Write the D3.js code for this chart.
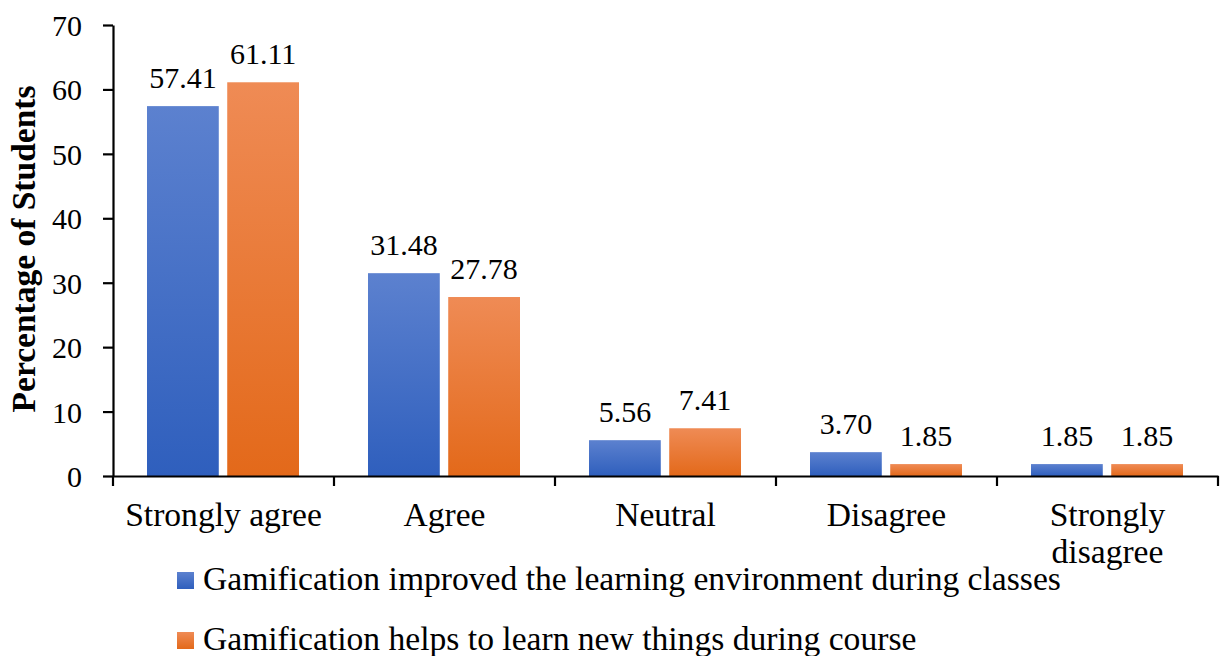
<!DOCTYPE html>
<html>
<head>
<meta charset="utf-8">
<script src="https://cdn.jsdelivr.net/npm/d3@7"></script>
<style>
  html, body { margin: 0; padding: 0; background: #fff; }
  svg { display: block; }
  text { font-family: "Liberation Serif", "Times New Roman", serif; fill: #000; }
</style>
</head>
<body>
<svg id="chart" width="1221" height="656"></svg>
<script>
// Survey responses (percentage of students)
const categories = ["Strongly agree", "Agree", "Neutral", "Disagree", "Strongly disagree"];
const seriesNames = [
  "Gamification improved the learning environment during classes",
  "Gamification helps to learn new things during course"
];
const improvedEnv = [57.41, 31.48, 5.56, 3.70, 1.85];
const learnNew = [61.11, 27.78, 7.41, 1.85, 1.85];
const yTicks = [0, 10, 20, 30, 40, 50, 60, 70];

const svg = d3.select("#chart");
const x0 = 113, x1 = 1218, yTop = 25, yBottom = 476;
const numSize = 30, textSize = 33.6;

const defs = svg.append("defs");
const grads = [
  { id: "gBlue", top: "#5c81cf", bottom: "#2f5fbd" },
  { id: "gOrange", top: "#ef8b55", bottom: "#e3691a" }
];
grads.forEach(g => {
  const lg = defs.append("linearGradient").attr("id", g.id)
    .attr("x1", 0).attr("y1", 0).attr("x2", 0).attr("y2", 1);
  lg.append("stop").attr("offset", "0%").attr("stop-color", g.top);
  lg.append("stop").attr("offset", "100%").attr("stop-color", g.bottom);
});
const fills = ["url(#gBlue)", "url(#gOrange)"];

const x = d3.scaleBand().domain(categories).range([x0, x1]).paddingInner(0).paddingOuter(0);
const xs = d3.scaleBand().domain([0, 1]).range([34, x.bandwidth() - 35]).paddingInner(16 / 152);
const y = d3.scaleLinear().domain([0, 70]).range([yBottom, yTop]);

const data = categories.map((c, i) => ({ cat: c, vals: [improvedEnv[i], learnNew[i]] }));

// bars
const groups = svg.append("g").selectAll("g").data(data).join("g")
  .attr("transform", d => `translate(${x(d.cat)},0)`);
groups.selectAll("rect").data(d => d.vals.map((v, k) => ({ v, k }))).join("rect")
  .attr("x", d => xs(d.k))
  .attr("width", xs.bandwidth())
  .attr("y", d => y(d.v))
  .attr("height", d => y(0) - y(d.v))
  .attr("fill", d => fills[d.k]);

// value labels
groups.selectAll("text.val").data(d => d.vals.map((v, k) => ({ v, k }))).join("text")
  .attr("class", "val")
  .attr("x", d => xs(d.k) + xs.bandwidth() / 2)
  .attr("y", d => y(d.v) - 18)
  .attr("text-anchor", "middle")
  .attr("font-size", numSize)
  .text(d => d.v.toFixed(2));

// y axis
const yAxis = svg.append("g").attr("transform", `translate(${x0},0)`)
  .call(d3.axisLeft(y).tickValues(yTicks).tickSize(10).tickPadding(21).tickSizeOuter(0));
yAxis.select(".domain").attr("stroke", "#000").attr("stroke-width", 2.2);
yAxis.selectAll(".tick line").attr("stroke", "#000").attr("stroke-width", 2.2);
yAxis.selectAll(".tick text").attr("font-size", numSize)
  .attr("fill", "#000").attr("dy", "0.35em");

// x axis with separators between categories
const xAxis = svg.append("g").attr("transform", `translate(0,${yBottom})`)
  .call(d3.axisBottom(x).tickSize(0).tickFormat(""));
xAxis.select(".domain").attr("stroke", "#000").attr("stroke-width", 2.2);
const bounds = categories.map(c => x(c)).concat([x1]);
xAxis.selectAll("line.sep").data(bounds).join("line")
  .attr("class", "sep")
  .attr("x1", d => d).attr("x2", d => d)
  .attr("y1", 0).attr("y2", 10)
  .attr("stroke", "#000").attr("stroke-width", 2.2);

// category labels (the long one wraps onto two lines)
const catLines = { "Strongly disagree": ["Strongly", "disagree"] };
categories.forEach(c => {
  const lines = catLines[c] || [c];
  const cx = x(c) + x.bandwidth() / 2;
  const t = svg.append("text")
    .attr("text-anchor", "middle")
    .attr("font-size", textSize);
  lines.forEach((ln, i) => {
    t.append("tspan").attr("x", cx).attr("y", 526 + i * 37).text(ln);
  });
});

// y axis title
svg.append("text")
  .attr("transform", `translate(35,249) rotate(-90)`)
  .attr("text-anchor", "middle")
  .attr("font-size", 33.5)
  .attr("font-weight", "bold")
  .text("Percentage of Students");

// legend
const legend = svg.append("g").selectAll("g").data(seriesNames).join("g")
  .attr("transform", (d, i) => `translate(177,${572 + i * 60})`);
legend.append("rect").attr("width", 17).attr("height", 17)
  .attr("fill", (d, i) => fills[i]);
legend.append("text").attr("x", 26).attr("y", 18)
  .attr("font-size", textSize)
  .text(d => d);
</script>
</body>
</html>
